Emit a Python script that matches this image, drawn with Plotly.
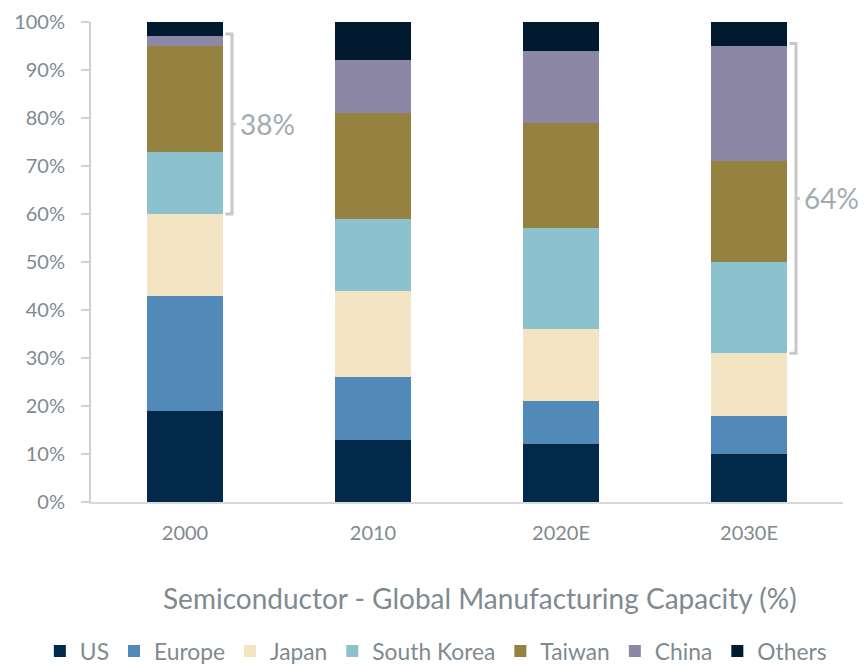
import plotly.graph_objects as go

categories = ["2000", "2010", "2020E", "2030E"]
regions = ["US", "Europe", "Japan", "South Korea", "Taiwan", "China", "Others"]
us = [19, 13, 12, 10]
europe = [24, 13, 9, 8]
japan = [17, 18, 15, 13]
south_korea = [13, 15, 21, 19]
taiwan = [22, 22, 22, 21]
china = [2, 11, 15, 24]
others = [3, 8, 6, 5]
series = [us, europe, japan, south_korea, taiwan, china, others]
colors = ["#03294A", "#5189B8", "#F3E4C4", "#8CC2CE", "#958240", "#8C87A5", "#021A2F"]

bracket_cats = [0, 3]          # index of category
bracket_labels = ["38%", "64%"]
chart_title = "Semiconductor - Global Manufacturing Capacity (%)"

FONT = "Lato"
GRAY = "#7F8A90"

fig = go.Figure()
for name, vals, col in zip(regions, series, colors):
    fig.add_trace(go.Bar(name=name, x=categories, y=vals, marker=dict(color=col, line=dict(width=0)),
                         width=0.4))

# brackets from Japan top to China top
cum = []
for i in range(len(categories)):
    c = 0
    tops = []
    for s in series:
        c += s[i]
        tops.append(c)
    cum.append(tops)

bc = "#C8C8C8"
for ci, lab in zip(bracket_cats, bracket_labels):
    lo = cum[ci][2]
    hi = cum[ci][5] + 0.5
    mid = (lo + hi) / 2
    x0, x1, xt = ci + 0.215, ci + 0.25, ci + 0.27
    path = (f"M{x0},{hi} L{x1},{hi} L{x1},{lo} L{x0},{lo} "
            f"M{x1},{mid} L{xt},{mid}")
    fig.add_shape(type="path", path=path, xref="x", yref="y",
                  line=dict(color=bc, width=3))
    fig.add_annotation(x=xt + 0.01, y=mid, xref="x", yref="y", text=lab, showarrow=False,
                       xanchor="left", yanchor="middle",
                       font=dict(family=FONT, size=28, color="#A3ABB2"))

fig.add_annotation(x=0.517, y=-0.2, xref="paper", yref="paper", text=chart_title,
                   showarrow=False, xanchor="center", yanchor="middle",
                   font=dict(family=FONT, size=28, color=GRAY))

fig.update_layout(
    barmode="stack",
    width=866, height=660,
    margin=dict(l=83, r=31, t=14, b=166, autoexpand=False),
    plot_bgcolor="white", paper_bgcolor="white",
    font=dict(family=FONT, color=GRAY),
    bargap=0.6,
    legend=dict(orientation="h", x=-0.068, xanchor="left",
                y=-0.266, yanchor="top",
                traceorder="normal", font=dict(family=FONT, size=22.8, color=GRAY),
                itemwidth=30, tracegroupgap=0),
    xaxis=dict(showline=True, linecolor="#D9D9D9", linewidth=2, ticks="",
               range=[-0.5, len(categories) - 0.5],
               tickfont=dict(family=FONT, size=20, color=GRAY), automargin=False,
               ticklabelstandoff=12),
    yaxis=dict(range=[0, 100], dtick=10, ticksuffix="%", showgrid=False, zeroline=False,
               showline=True, linecolor="#D0D0D0", linewidth=2, ticks="outside",
               ticklen=8, tickcolor="#D0D0D0", tickwidth=2, automargin=False,
               ticklabelstandoff=12, ticklabeloverflow="allow",
               tickfont=dict(family=FONT, size=20, color=GRAY)),
)

fig.write_html("out.html")
